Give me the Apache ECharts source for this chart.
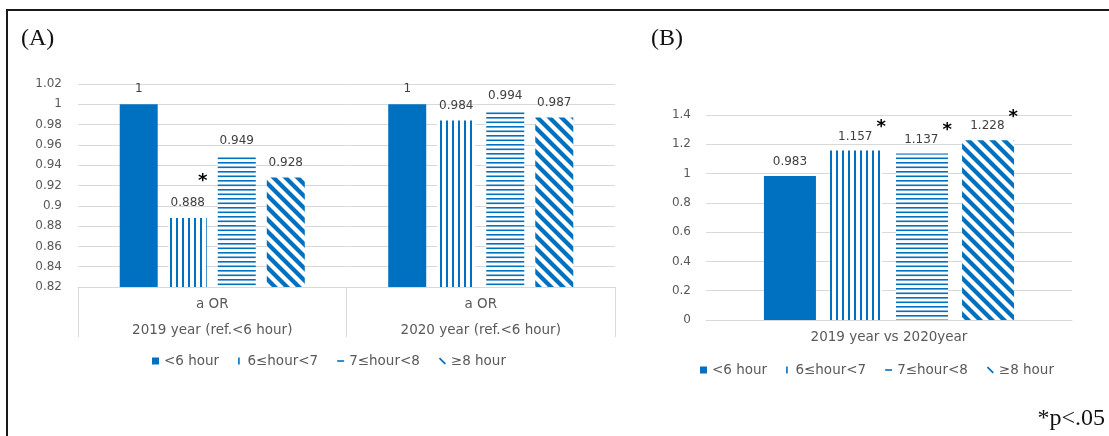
<!DOCTYPE html>
<html>
<head>
<meta charset="utf-8">
<script src="https://cdn.jsdelivr.net/npm/echarts@6/dist/echarts.min.js"></script>
<style>
  html, body { margin: 0; padding: 0; background: #fff; }
  #chart { width: 1109px; height: 436px; }
</style>
</head>
<body>
<div id="chart"></div>
<script>
// Sleep-duration groups (one series per group)
const seriesNames = ['<6 hour', '6≤hour<7', '7≤hour<8', '≥8 hour'];

// Panel A: adjusted odds ratios by year
const categoriesA = ['2019 year (ref.<6 hour)', '2020 year (ref.<6 hour)'];
const measureA = 'a OR';
const valuesA = [
  [1, 1],
  [0.888, 0.984],
  [0.949, 0.994],
  [0.928, 0.987]
];
const starsA = [
  [0, 0],
  [1, 0],
  [0, 0],
  [0, 0]
];
const yTicksA = { min: 0.82, max: 1.02, interval: 0.02 };

// Panel B: 2019 vs 2020
const categoriesB = ['2019 year vs 2020year'];
const valuesB = [0.983, 1.157, 1.137, 1.228];
const starsB = [0, 1, 1, 1];
const yTicksB = { min: 0, max: 1.4, interval: 0.2 };

const BLUE = '#0070C0';
const SANS = '"DejaVu Sans", sans-serif';
const SERIF = '"Liberation Serif", "DejaVu Serif", serif';

// Small repeating tiles used as hatch fills
function tile(w, h, draw) {
  const c = document.createElement('canvas');
  c.width = w; c.height = h;
  const g = c.getContext('2d');
  g.fillStyle = '#fff';
  g.fillRect(0, 0, w, h);
  g.fillStyle = BLUE;
  g.strokeStyle = BLUE;
  draw(g);
  return { image: c, repeat: 'repeat' };
}
const fills = [
  BLUE,
  tile(6, 6, g => g.fillRect(2, 0, 2, 6)),
  tile(6, 9, g => { g.fillRect(0, 0, 6, 1.6); g.fillRect(0, 4.5, 6, 1.6); }),
  tile(12, 12, g => {
    g.lineWidth = 4.2;
    for (let k = -1; k <= 1; k++) {
      g.beginPath();
      g.moveTo(-3, -3 + 12 * k);
      g.lineTo(15, 15 + 12 * k);
      g.stroke();
    }
  })
];

// Legend glyphs: a solid square, then a single stroke of each hatch
const legendIcons = [
  'rect',
  'path://M0,0L1.6,0L1.6,7L0,7Z',
  'path://M0,0L7,0L7,1.6L0,1.6Z',
  'path://M0,1.2L1.2,0L7,5.8L5.8,7Z'
];
const legendData = seriesNames.map((name, i) => ({
  name, icon: legendIcons[i], itemStyle: { color: BLUE }
}));

const richA = {
  v: { fontFamily: SANS, fontSize: 12, color: '#404040', lineHeight: 14 },
  s: { fontFamily: SANS, fontSize: 18, fontWeight: 'bold', color: '#000', lineHeight: 30, padding: [0, 0, 0, 30] }
};
const richB = {
  v: { fontFamily: SANS, fontSize: 12, color: '#404040', lineHeight: 14, verticalAlign: 'bottom' },
  vp: { fontFamily: SANS, fontSize: 12, color: '#404040', lineHeight: 14, verticalAlign: 'bottom', padding: [0, 0, 0, 12] },
  s: { fontFamily: SANS, fontSize: 18, fontWeight: 'bold', color: '#000', lineHeight: 14, verticalAlign: 'bottom', padding: [0, 0, 6, 4] }
};

const tickText = { color: '#595959', fontSize: 12, fontFamily: SANS };
const wordText = { color: '#595959', fontSize: 13.5, fontFamily: SANS };
const gridColor = '#D9D9D9';

const series = [];
seriesNames.forEach((name, i) => {
  series.push({
    name, type: 'bar', xAxisIndex: 0, yAxisIndex: 0,
    data: valuesA[i],
    barWidth: 38, barGap: '29%',
    itemStyle: { color: fills[i] },
    label: {
      show: true, position: 'top', distance: 8,
      formatter: p => starsA[i][p.dataIndex] ? '{s|*}\n{v|' + p.value + '}' : '{v|' + p.value + '}',
      rich: richA
    }
  });
});
seriesNames.forEach((name, i) => {
  series.push({
    name, type: 'bar', xAxisIndex: 1, yAxisIndex: 1,
    data: [valuesB[i]],
    barWidth: 52, barGap: '27%',
    itemStyle: { color: fills[i] },
    label: {
      show: true, position: 'top', distance: 8,
      formatter: p => starsB[i] ? '{vp|' + p.value + '}{s|*}' : '{v|' + p.value + '}',
      rich: richB
    }
  });
});

const chart = echarts.init(document.getElementById('chart'), null, { renderer: 'canvas' });
chart.setOption({
  animation: false,
  backgroundColor: '#fff',
  grid: [
    { left: 78, right: 494, top: 84, bottom: 149 },
    { left: 706, right: 37, top: 115, bottom: 116 }
  ],
  xAxis: [
    {
      type: 'category', gridIndex: 0, data: categoriesA,
      axisLine: { lineStyle: { color: gridColor } },
      axisTick: { show: true, interval: 0, length: 50, lineStyle: { color: gridColor } },
      axisLabel: Object.assign({ interval: 0, margin: 4, lineHeight: 26, formatter: v => measureA + '\n' + v }, wordText)
    },
    {
      type: 'category', gridIndex: 1, data: categoriesB,
      axisLine: { lineStyle: { color: gridColor } },
      axisTick: { show: false },
      axisLabel: Object.assign({ margin: 10 }, wordText)
    }
  ],
  yAxis: [
    {
      type: 'value', gridIndex: 0, min: yTicksA.min, max: yTicksA.max, interval: yTicksA.interval,
      axisLine: { show: false }, axisTick: { show: false },
      splitLine: { lineStyle: { color: gridColor } },
      axisLabel: Object.assign({ margin: 16, formatter: v => String(+v.toFixed(2)) }, tickText)
    },
    {
      type: 'value', gridIndex: 1, min: yTicksB.min, max: yTicksB.max, interval: yTicksB.interval,
      axisLine: { show: false }, axisTick: { show: false },
      splitLine: { lineStyle: { color: gridColor } },
      axisLabel: Object.assign({ margin: 15, formatter: v => String(+v.toFixed(1)) }, tickText)
    }
  ],
  legend: [
    {
      data: legendData, left: 147, top: 349,
      itemWidth: 7, itemHeight: 7, itemGap: 19,
      textStyle: wordText, selectedMode: false
    },
    {
      data: legendData, left: 695, top: 358,
      itemWidth: 7, itemHeight: 7, itemGap: 19,
      textStyle: wordText, selectedMode: false
    }
  ],
  graphic: [
    {
      type: 'rect', silent: true,
      shape: { x: 7, y: 10, width: 1300, height: 600 },
      style: { fill: 'none', stroke: '#1a1a1a', lineWidth: 2 }
    },
    { type: 'text', silent: true, style: { text: '(A)', x: 21, y: 39, font: '24px ' + SERIF, fill: '#111', verticalAlign: 'middle' } },
    { type: 'text', silent: true, style: { text: '(B)', x: 651, y: 39, font: '24px ' + SERIF, fill: '#111', verticalAlign: 'middle' } },
    { type: 'text', silent: true, style: { text: '*p<.05', x: 1105, y: 419, font: '24px ' + SERIF, fill: '#111', align: 'right', verticalAlign: 'middle' } }
  ],
  series
});
</script>
</body>
</html>
